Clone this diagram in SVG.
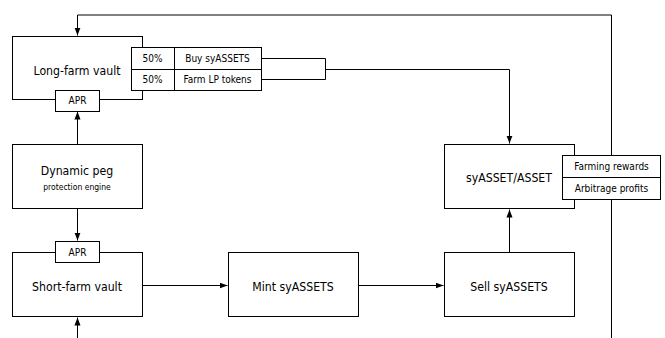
<svg xmlns="http://www.w3.org/2000/svg" width="665" height="338" viewBox="0 0 665 338">
<style>
.b{fill:#fff;stroke:#000;stroke-width:1}
.c{fill:none;stroke:#000;stroke-width:1}
text{font-family:"DejaVu Sans Condensed","DejaVu Sans","Liberation Sans",sans-serif;fill:#000;text-anchor:middle}
.t{font-size:12.2px}
.s{font-size:10px}
.x{font-size:8.5px}
</style>
<defs>
<marker id="a" viewBox="0 0 10 10" refX="10" refY="5" markerWidth="8" markerHeight="8" markerUnits="userSpaceOnUse" orient="auto"><path d="M0,1.2L10,5L0,8.8z" fill="#000"/></marker>
</defs>
<g id="connectors">
<path class="c" d="M611.5,338V15H77.5V35.5" marker-end="url(#a)"/>
<path class="c" d="M261,58.5H325.5V79.5H261M325.5,69.5H509.5V143.5" marker-end="url(#a)"/>
<path class="c" d="M77.5,144V111.5" marker-end="url(#a)"/>
<path class="c" d="M77.5,209V240.5" marker-end="url(#a)"/>
<path class="c" d="M77.5,338V317.5" marker-end="url(#a)"/>
<path class="c" d="M142,285.5H227.5" marker-end="url(#a)"/>
<path class="c" d="M358,285.5H443.5" marker-end="url(#a)"/>
<path class="c" d="M509.5,252V209.5" marker-end="url(#a)"/>
</g>
<g id="long-farm">
<rect class="b" x="12.5" y="36.5" width="130" height="63"/>
<text class="t" x="77" y="75">Long-farm vault</text>
<rect class="b" x="55.5" y="90.5" width="44" height="21"/>
<text class="s" x="77.5" y="104">APR</text>
</g>
<g id="split">
<rect class="b" x="131.5" y="47.5" width="130" height="43"/>
<path class="c" d="M131.5,69.5H261.5M174.5,47.5V90.5"/>
<text class="s" x="152.5" y="62">50%</text>
<text class="s" x="217.5" y="62">Buy syASSETS</text>
<text class="s" x="152.5" y="83">50%</text>
<text class="s" x="217.5" y="83">Farm LP tokens</text>
</g>
<g id="dynamic-peg">
<rect class="b" x="12.5" y="144.5" width="130" height="64"/>
<text class="t" x="77" y="175">Dynamic peg</text>
<text class="x" x="77" y="190">protection engine</text>
</g>
<g id="short-farm">
<rect class="b" x="12.5" y="252.5" width="130" height="64"/>
<text class="t" x="77" y="291">Short-farm vault</text>
<rect class="b" x="55.5" y="241.5" width="44" height="21"/>
<text class="s" x="77.5" y="256">APR</text>
</g>
<g id="mint">
<rect class="b" x="228.5" y="252.5" width="130" height="64"/>
<text class="t" x="293" y="291">Mint syASSETS</text>
</g>
<g id="sell">
<rect class="b" x="444.5" y="252.5" width="130" height="64"/>
<text class="t" x="509" y="291">Sell syASSETS</text>
</g>
<g id="syasset">
<rect class="b" x="444.5" y="144.5" width="130" height="64"/>
<text class="t" x="509" y="182">syASSET/ASSET</text>
</g>
<g id="rewards">
<rect class="b" x="562.5" y="155.5" width="98" height="44"/>
<path class="c" d="M562.5,177.5H660.5"/>
<text class="s" x="611.5" y="170">Farming rewards</text>
<text class="s" x="611.5" y="192">Arbitrage profits</text>
</g>
</svg>
